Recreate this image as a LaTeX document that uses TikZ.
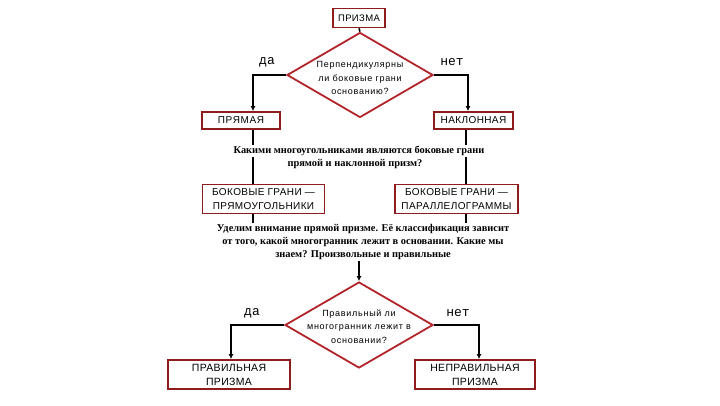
\documentclass[tikz,border=0pt]{standalone}
\usepackage{fontspec}
\setmainfont{Liberation Serif}
\newfontfamily\boxfont{Liberation Sans}
\newfontfamily\ynfont{Liberation Mono}
\usetikzlibrary{shapes.geometric,arrows.meta,calc}
\definecolor{boxred}{HTML}{8E1C1C}
\definecolor{diared}{HTML}{B3242A}
\tikzset{
  rbox/.style={draw=boxred,line width=1.8pt,fill=white,rectangle,inner sep=0pt,align=center,
    font=\boxfont\fontsize{9.5}{13}\selectfont\addfontfeature{LetterSpace=4}},
  dia/.style={draw=diared,line width=1.8pt,diamond,inner sep=0pt},
  dtext/.style={align=center,font=\boxfont\fontsize{9}{13.5}\selectfont\addfontfeature{LetterSpace=8}},
  qtext/.style={align=center,inner sep=1pt,font=\bfseries\fontsize{10.4}{12.8}\selectfont},
  yn/.style={font=\ynfont\fontsize{13}{13}\selectfont},
  conn/.style={line width=1.6pt,black},
  arr/.style={conn,-{Latex[length=5pt,width=5pt]}}
}
\begin{document}
\begin{tikzpicture}[x=1pt,y=-1pt]
\useasboundingbox (0,0) rectangle (720,405);
% nodes
\node[rbox,minimum width=52pt,minimum height=19pt] (prizma) at (359,18) {ПРИЗМА};
\node[dia,minimum width=146pt,minimum height=85pt] (d1) at (360,75) {};
\node[dtext] (d1t) at (360,78) {Перпендикулярны\\ли боковые грани\\основанию?};
\node[yn] (da1) at (267,62) {да};
\node[yn] (net1) at (452,62) {нет};
\node[rbox,minimum width=78pt,minimum height=17pt,font=\boxfont\fontsize{10}{13}\selectfont\addfontfeature{LetterSpace=6}] (prym) at (241,120.5) {ПРЯМАЯ};
\node[rbox,minimum width=79pt,minimum height=17pt,font=\boxfont\fontsize{10}{13}\selectfont\addfontfeature{LetterSpace=4}] (nakl) at (473.5,120.5) {НАКЛОННАЯ};

\node[rbox,minimum width=122pt,minimum height=29pt,font=\boxfont\fontsize{10}{14}\selectfont\addfontfeature{LetterSpace=4}] (bok1) at (263.5,199) {БОКОВЫЕ ГРАНИ —\\ПРЯМОУГОЛЬНИКИ};
\node[rbox,minimum width=123pt,minimum height=29pt,font=\boxfont\fontsize{10}{14}\selectfont\addfontfeature{LetterSpace=4}] (bok2) at (456.5,199) {БОКОВЫЕ ГРАНИ —\\ПАРАЛЛЕЛОГРАММЫ};

\node[dia,minimum width=148pt,minimum height=86pt] (d2) at (359,325) {};
\node[dtext] (d2t) at (359,326.5) {Правильный ли\\многогранник лежит в\\основании?};
\node[yn] (da2) at (252,313) {да};
\node[yn] (net2) at (458,313) {нет};
\node[rbox,minimum width=122pt,minimum height=29pt,font=\boxfont\fontsize{10.5}{14}\selectfont\addfontfeature{LetterSpace=3}] (prav) at (229,374.5) {ПРАВИЛЬНАЯ\\ПРИЗМА};
\node[rbox,minimum width=120pt,minimum height=29pt,font=\boxfont\fontsize{10.5}{14}\selectfont\addfontfeature{LetterSpace=3}] (neprav) at (475,374.5) {НЕПРАВИЛЬНАЯ\\ПРИЗМА};

% connectors
\draw[conn] (prizma.south) -- (d1.north);
\draw[arr] (d1.west) -| ([xshift=12pt]prym.north);
\draw[arr] (d1.east) -| ([xshift=-5.5pt]nakl.north);
\draw[conn] ([xshift=12pt]prym.south) -- ([xshift=-10.5pt]bok1.north);
\draw[conn] ([xshift=-7.5pt]nakl.south) -- ([xshift=9.5pt]bok2.north);

% question 1 (line 1 masks connectors)
\node[qtext,fill=white] (q1a) at (359,151) {Какими многоугольниками являются боковые грани};
\node[qtext] (q1b) at (355,164) {прямой и наклонной призм?};

% paragraph 2
\node[qtext,fill=white] (p2) at (363,242) {Уделим внимание прямой призме. Её классификация зависит\\от того, какой многогранник лежит в основании. Какие мы\\знаем? Произвольные и правильные};
\coordinate (b1s) at ([xshift=-10.5pt]bok1.south);
\coordinate (b2s) at ([xshift=9.5pt]bok2.south);
\draw[conn] (b1s) -- (p2.north -| b1s);
\draw[conn] (b2s) -- (p2.north -| b2s);
\draw[arr] (p2.south -| d2.north) -- (d2.north);

\draw[arr] (d2.west) -| ([xshift=2pt]prav.north);
\draw[arr,line width=2.6pt] (d2.east) -| ([xshift=4pt]neprav.north);
\end{tikzpicture}
\end{document}
